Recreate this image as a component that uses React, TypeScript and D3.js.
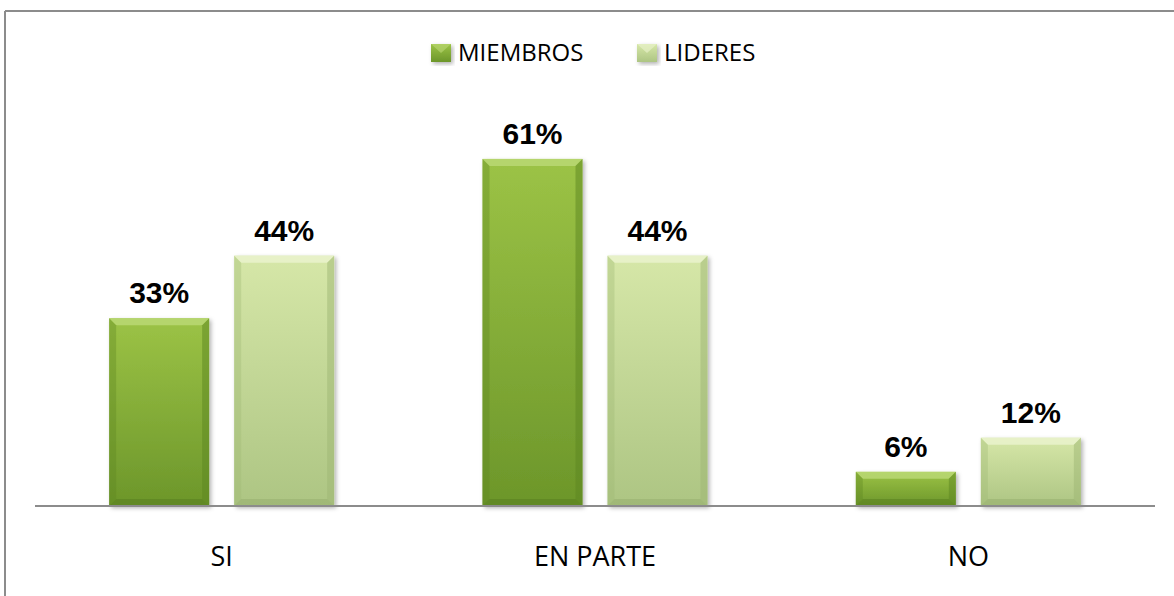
import React from "react";
import * as d3 from "d3";

const categories = ["SI", "EN PARTE", "NO"];
const seriesNames = ["MIEMBROS", "LIDERES"];
const miembros = [33, 61, 6];
const lideres = [44, 44, 12];
const valueLabels = [["33%", "61%", "6%"], ["44%", "44%", "12%"]];

const W = 1174;
const H = 596;

const palettes = [
  { top: "#9cc346", bottom: "#6c962a", hi: "#bcd977", side: "#5c8520", base: "#557b1d" },
  { top: "#d6e7a8", bottom: "#adc583", hi: "#ebf4cf", side: "#9db674", base: "#93ac6b" },
];

export default function App() {
  const x0 = d3.scaleBand<string>().domain(categories).range([35, 1155]).paddingInner(0).paddingOuter(0);
  const x1 = d3
    .scaleBand<string>()
    .domain(seriesNames)
    .range([0, x0.bandwidth()])
    .paddingInner(0.2)
    .paddingOuter(0.593);
  const y = d3.scaleLinear().domain([0, 70]).range([506, 107.7]);
  const data = [miembros, lideres];

  const bev = 7;

  return (
    <svg
      width={W}
      height={H}
      style={{ position: "absolute", left: 0, top: 0, background: "#fff" }}
      fontFamily="'Open Sans', sans-serif"
    >
      <defs>
        {palettes.map((p, i) => (
          <linearGradient key={i} id={`g${i}`} x1="0" y1="0" x2="0" y2="1">
            <stop offset="0" stopColor={p.top} />
            <stop offset="1" stopColor={p.bottom} />
          </linearGradient>
        ))}
        <filter id="sh" x="-20%" y="-20%" width="140%" height="140%">
          <feDropShadow dx="2" dy="2" stdDeviation="2" floodColor="#000" floodOpacity="0.3" />
        </filter>
      </defs>
      <rect x={0} y={0} width={W} height={H} fill="#fff" />
      <line x1={5} y1={11} x2={W} y2={11} stroke="#8c8c8c" strokeWidth={2} />
      <line x1={5} y1={11} x2={5} y2={H} stroke="#8c8c8c" strokeWidth={2} />

      {seriesNames.map((s, i) => {
        const lx = i === 0 ? 431 : 637;
        const p = palettes[i];
        return (
          <g key={s}>
            <rect x={lx} y={44} width={20} height={18} fill={`url(#g${i})`} filter="url(#sh)" />
            <polygon points={`${lx},44 ${lx + 20},44 ${lx + 10},53`} fill={p.hi} opacity={0.6} />
            <text x={lx + 27} y={61} fontSize={24} fill="#000">
              {s}
            </text>
          </g>
        );
      })}

      {data.map((vals, si) =>
        vals.map((v, ci) => {
          const bx = (x0(categories[ci]) as number) + (x1(seriesNames[si]) as number);
          const bw = x1.bandwidth();
          const by = y(v);
          const bh = y(0) - by;
          const p = palettes[si];
          return (
            <g key={`${si}-${ci}`}>
              <rect x={bx} y={by} width={bw} height={bh} fill={`url(#g${si})`} filter="url(#sh)" />
              <polygon
                points={`${bx},${by} ${bx + bw},${by} ${bx + bw - bev},${by + bev} ${bx + bev},${by + bev}`}
                fill={p.hi}
                opacity={0.8}
              />
              <polygon
                points={`${bx},${by} ${bx + bev},${by + bev} ${bx + bev},${by + bh - bev} ${bx},${by + bh}`}
                fill={p.side}
                opacity={0.35}
              />
              <polygon
                points={`${bx + bw},${by} ${bx + bw - bev},${by + bev} ${bx + bw - bev},${by + bh - bev} ${bx + bw},${by + bh}`}
                fill={p.side}
                opacity={0.5}
              />
              <polygon
                points={`${bx},${by + bh} ${bx + bev},${by + bh - bev} ${bx + bw - bev},${by + bh - bev} ${bx + bw},${by + bh}`}
                fill={p.base}
                opacity={0.5}
              />
              <text
                x={bx + bw / 2}
                y={by - 15}
                textAnchor="middle"
                fontFamily="'Liberation Sans', Arial, sans-serif"
                fontWeight="bold"
                fontSize={30}
                fill="#000"
              >
                {valueLabels[si][ci]}
              </text>
            </g>
          );
        })
      )}

      <line x1={35} y1={506} x2={1155} y2={506} stroke="#8c8c8c" strokeWidth={2} />

      {categories.map((c) => (
        <text
          key={c}
          x={(x0(c) as number) + x0.bandwidth() / 2}
          y={566}
          textAnchor="middle"
          fontSize={27}
          fill="#000"
        >
          {c}
        </text>
      ))}
    </svg>
  );
}
